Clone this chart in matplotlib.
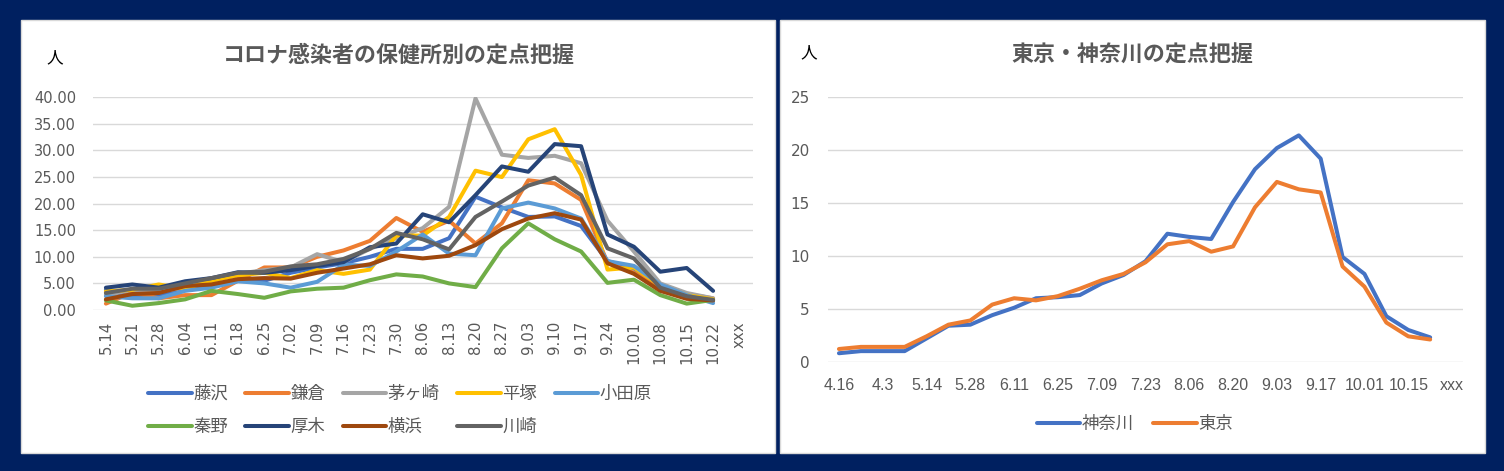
import matplotlib.pyplot as plt
from matplotlib.patches import Rectangle

# 左: 保健所別
dates_l = ["5.14", "5.21", "5.28", "6.04", "6.11", "6.18", "6.25", "7.02", "7.09",
           "7.16", "7.23", "7.30", "8.06", "8.13", "8.20", "8.27", "9.03", "9.10",
           "9.17", "9.24", "10.01", "10.08", "10.15", "10.22", "xxx"]
fujisawa = [3.8, 2.5, 2.6, 3.8, 4.8, 5.5, 5.5, 7.0, 8.0, 8.8, 10.0, 11.5,
            11.5, 13.5, 21.3, 19.3, 17.5, 17.6, 15.8, 9.2, 7.8, 4.5, 2.8, 1.8]
kamakura = [1.2, 3.3, 2.2, 2.8, 2.8, 5.5, 8.0, 8.0, 10.0, 11.2, 13.0, 17.3,
            14.7, 16.8, 12.5, 16.3, 24.4, 23.8, 20.7, 8.9, 7.0, 4.5, 3.0, 2.2]
chigasaki = [2.8, 3.8, 3.5, 4.2, 5.5, 6.8, 7.5, 8.0, 10.5, 9.0, 11.5, 13.5,
             15.4, 19.4, 39.8, 29.2, 28.6, 29.0, 27.6, 16.8, 11.0, 5.0, 3.2, 2.2]
hiratsuka = [3.5, 3.8, 4.8, 4.0, 5.5, 6.5, 7.0, 6.0, 7.5, 6.8, 7.6, 14.0,
             14.0, 17.5, 26.2, 25.0, 32.1, 34.0, 25.4, 7.6, 8.0, 4.6, 2.8, 2.0]
odawara = [2.6, 2.2, 2.2, 3.6, 4.2, 5.4, 5.0, 4.2, 5.3, 8.5, 8.3, 11.0,
           14.2, 10.6, 10.3, 19.1, 20.2, 19.1, 17.2, 9.2, 8.3, 4.8, 2.8, 1.3]
hadano = [1.8, 0.8, 1.3, 2.0, 3.6, 3.0, 2.3, 3.5, 4.0, 4.2, 5.6, 6.7,
          6.3, 5.0, 4.3, 11.6, 16.3, 13.3, 11.0, 5.1, 5.7, 2.8, 1.2, 1.9]
atsugi = [4.2, 4.8, 4.2, 5.4, 6.0, 7.1, 7.0, 7.5, 8.3, 9.0, 11.8, 12.5,
          18.0, 16.5, 21.6, 27.0, 26.0, 31.2, 30.8, 14.2, 11.9, 7.2, 7.9, 3.6]
yokohama = [2.0, 3.0, 3.2, 4.5, 4.8, 5.8, 6.0, 5.9, 7.0, 7.8, 8.6, 10.3,
            9.7, 10.2, 12.2, 15.2, 17.2, 18.2, 17.0, 8.8, 6.8, 3.6, 2.1, 1.8]
kawasaki = [3.2, 4.0, 4.0, 5.0, 6.0, 7.0, 7.2, 8.2, 8.6, 9.6, 11.5, 14.5,
            13.3, 11.4, 17.5, 20.4, 23.4, 24.9, 21.6, 11.6, 9.7, 4.2, 2.6, 1.9]

names_l = ["藤沢", "鎌倉", "茅ヶ崎", "平塚", "小田原", "秦野", "厚木", "横浜", "川崎"]
series_l = [fujisawa, kamakura, chigasaki, hiratsuka, odawara, hadano, atsugi, yokohama, kawasaki]
colors_l = ["#4472C4", "#ED7D31", "#A5A5A5", "#FFC000", "#5B9BD5",
            "#70AD47", "#264478", "#9E480E", "#636363"]

# 右: 東京・神奈川
dates_r = ["4.16", "4.23", "4.3", "5.07", "5.14", "5.21", "5.28", "6.04", "6.11", "6.18",
           "6.25", "7.02", "7.09", "7.16", "7.23", "7.30", "8.06", "8.13", "8.20",
           "8.27", "9.03", "9.10", "9.17", "9.24", "10.01", "10.08", "10.15", "10.22", "xxx"]
kanagawa = [0.8, 1.0, 1.0, 1.0, 2.2, 3.4, 3.5, 4.4, 5.1, 6.0, 6.1, 6.3, 7.4, 8.2,
            9.5, 12.1, 11.8, 11.6, 15.1, 18.2, 20.2, 21.4, 19.2, 9.9, 8.3, 4.3, 3.0, 2.3]
tokyo = [1.2, 1.4, 1.4, 1.4, 2.4, 3.5, 3.9, 5.4, 6.0, 5.8, 6.2, 6.9, 7.7, 8.3,
         9.4, 11.1, 11.4, 10.4, 10.9, 14.6, 17.0, 16.3, 16.0, 9.0, 7.1, 3.7, 2.4, 2.1]

W, H = 1504, 471
fig = plt.figure(figsize=(W / 100, H / 100), dpi=100)
fig.patch.set_facecolor("#002060")

jp = ["Noto Sans CJK JP", "DejaVu Sans"]
txt = "#595959"

# 白いパネル (軸より下に)
for x0, x1 in [(21, 775), (780, 1485)]:
    fig.patches.append(Rectangle((x0 / W, 1 - 453 / H), (x1 - x0) / W, (453 - 20) / H,
                                 transform=fig.transFigure, facecolor="white",
                                 edgecolor="#D9D9D9", linewidth=1, zorder=-5))

def style(ax):
    for s in ax.spines.values():
        s.set_visible(False)
    ax.tick_params(length=0, colors=txt)
    ax.grid(axis="y", color="#D9D9D9", linewidth=1)
    ax.set_axisbelow(True)
    ax.set_facecolor("none")

# ---- 左のグラフ
ax1 = fig.add_axes([92.7 / W, 1 - 310 / H, 660 / W, 212.7 / H])
style(ax1)
xl = list(range(len(dates_l)))
for name, vals, c in zip(names_l, series_l, colors_l):
    ax1.plot(xl[:len(vals)], vals, color=c, lw=2.9, label=name,
             solid_capstyle="round", solid_joinstyle="round")
ax1.set_xlim(-0.5, len(dates_l) - 0.5)
ax1.set_ylim(0, 40)
ax1.set_yticks(range(0, 41, 5))
ax1.set_yticklabels([f"{v:.2f}" for v in range(0, 41, 5)], fontsize=10.5)
ax1.set_xticks(xl)
ax1.set_xticklabels(dates_l, rotation=90, fontsize=10.8)
ax1.tick_params(axis="y", pad=12)
ax1.tick_params(axis="x", pad=8)

fig.text(399 / W, 1 - 55 / H, "コロナ感染者の保健所別の定点把握", ha="center", va="center",
         fontsize=15.8, fontweight="bold", color=txt, family=jp)
fig.text(55 / W, 1 - 58 / H, "人", ha="center", va="center", fontsize=12, family=jp)

# 凡例は行ごとに並べる
h, l = ax1.get_legend_handles_labels()
order = [0, 5, 1, 6, 2, 7, 3, 8, 4]
fig.legend([h[i] for i in order], [l[i] for i in order], loc="upper center", ncol=5,
           bbox_to_anchor=(400 / W, 1 - 369 / H), frameon=False,
           prop={"family": jp, "size": 12.5}, labelcolor=txt,
           handlelength=2.5, handletextpad=0.1, columnspacing=1.0, labelspacing=0.9)

# ---- 右のグラフ
ax2 = fig.add_axes([828 / W, 1 - 361.7 / H, 635 / W, 264.4 / H])
style(ax2)
xr = list(range(len(dates_r)))
ax2.plot(xr[:len(kanagawa)], kanagawa, color="#4472C4", lw=2.9, label="神奈川",
         solid_capstyle="round", solid_joinstyle="round")
ax2.plot(xr[:len(tokyo)], tokyo, color="#ED7D31", lw=2.9, label="東京",
         solid_capstyle="round", solid_joinstyle="round")
ax2.set_xlim(-0.5, len(dates_r) - 0.5)
ax2.set_ylim(0, 25)
ax2.set_yticks(range(0, 26, 5))
ax2.tick_params(axis="y", labelsize=11, pad=13)
ax2.set_xticks(xr[::2])
ax2.set_xticklabels(dates_r[::2], fontsize=11.5, family="Liberation Sans")
ax2.tick_params(axis="x", pad=12)

fig.text(1132 / W, 1 - 55 / H, "東京・神奈川の定点把握", ha="center", va="center",
         fontsize=15.8, fontweight="bold", color=txt, family=jp)
fig.text(809 / W, 1 - 53 / H, "人", ha="center", va="center", fontsize=12, family=jp)
fig.legend(*ax2.get_legend_handles_labels(), loc="center", ncol=2,
           bbox_to_anchor=(1135 / W, 1 - 424 / H), frameon=False,
           prop={"family": jp, "size": 12.5}, labelcolor=txt,
           handlelength=2.5, handletextpad=0.1, columnspacing=1.1)

fig.savefig("out.png", dpi=100, facecolor=fig.get_facecolor())
